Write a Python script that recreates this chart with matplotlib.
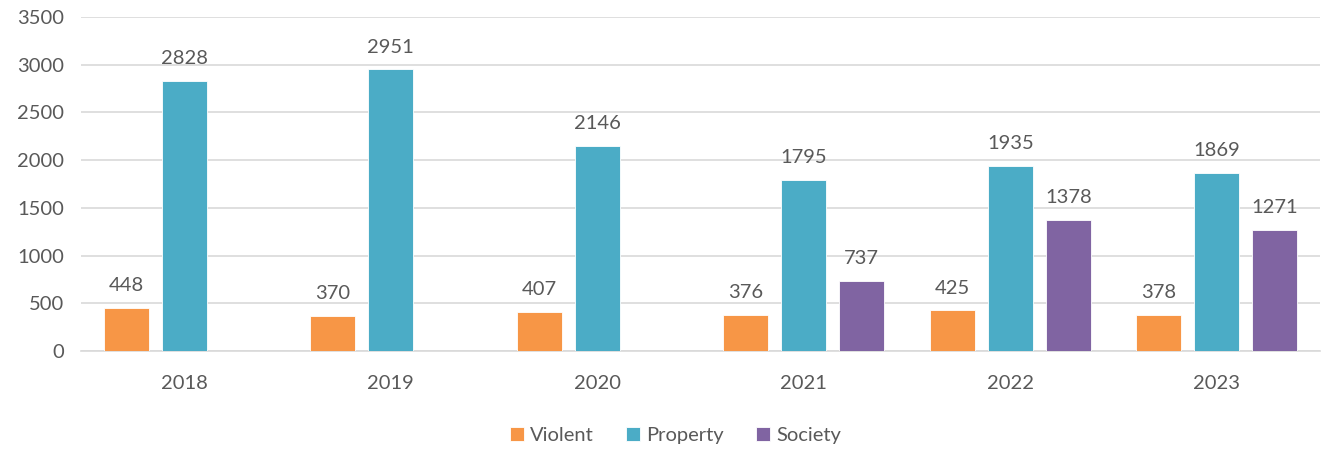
import numpy as np
import matplotlib.pyplot as plt

years = ['2018', '2019', '2020', '2021', '2022', '2023']
violent = [448, 370, 407, 376, 425, 378]
prop = [2828, 2951, 2146, 1795, 1935, 1869]
society = [None, None, None, 737, 1378, 1271]

series = [('Violent', violent, '#F79646'),
          ('Property', prop, '#4BACC6'),
          ('Society', society, '#8064A2')]

plt.rcParams['font.family'] = ['Lato', 'DejaVu Sans']
txt = '#595959'

fig = plt.figure(figsize=(13.22, 4.51), dpi=100)
ax = fig.add_axes([0.0613, 0.2217, 0.9372, 0.7406])

x = np.arange(len(years))
w = 0.218
step = 0.281
for i, (name, vals, col) in enumerate(series):
    xs = [xx + (i - 1) * step for xx, v in zip(x, vals) if v is not None]
    vs = [v for v in vals if v is not None]
    ax.bar(xs, vs, w, color=col, edgecolor='white', linewidth=0.6, label=name, zorder=3)
    for xx, v in zip(xs, vs):
        ax.annotate(str(v), (xx, v), xytext=(0, 10), textcoords='offset points',
                    ha='center', va='bottom', fontsize=14.5, color=txt)

ax.set_xlim(-0.5, len(years) - 0.5)
ax.set_ylim(0, 3500)
ax.set_yticks(range(0, 3501, 500))
ax.set_xticks(x)
ax.set_xticklabels(years)
ax.grid(axis='y', color='#D9D9D9', linewidth=1.2, zorder=0)
for s in ['top', 'right', 'left']:
    ax.spines[s].set_visible(False)
ax.spines['bottom'].set_color('#D9D9D9')
ax.spines['bottom'].set_linewidth(1.2)
ax.tick_params(length=0, labelsize=14.5, colors=txt)
ax.tick_params(axis='x', pad=17)
ax.tick_params(axis='y', pad=12)

fig.legend(loc='center', bbox_to_anchor=(0.511, 0.035), ncol=3, frameon=False,
           fontsize=14.5, labelcolor=txt, handlelength=0.7, handleheight=0.7,
           handletextpad=0.3, columnspacing=1.6)

fig.savefig('out.png', dpi=100)
